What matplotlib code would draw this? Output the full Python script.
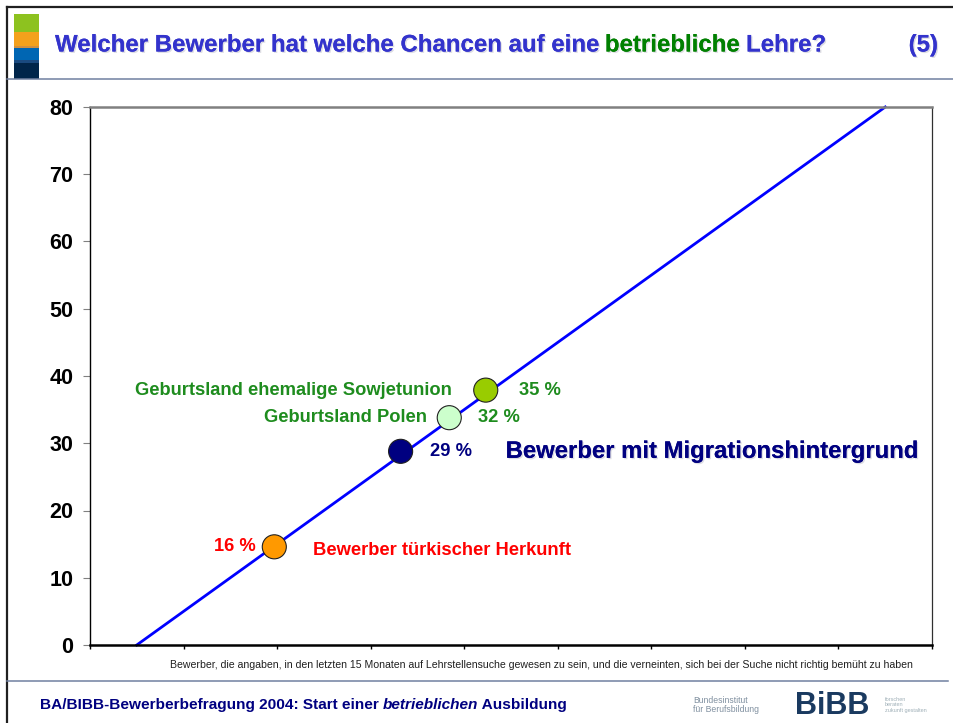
import numpy as np
import matplotlib
matplotlib.use("Agg")
import matplotlib.pyplot as plt
import matplotlib.patheffects as pe
from matplotlib.patches import Rectangle

plt.rcParams["font.family"] = ["Liberation Sans", "DejaVu Sans"]

# ---------------------------------------------------------------- data
line_x = [0.5, 8.5]
line_y = [0, 80]
pt_x = [1.97, 3.32, 3.84, 4.23]
pt_y = [14.6, 28.8, 33.8, 37.9]
pt_lab = ["16 %", "29 %", "32 %", "35 %"]
pt_face = ["#FF9900", "#000080", "#CCFFCC", "#99CC00"]
pt_txtcol = ["#FF0000", "#000080", "#1E8C1E", "#1E8C1E"]
yticks = [0, 10, 20, 30, 40, 50, 60, 70, 80]
xticks = list(range(0, 10))

TITLE_A = "Welcher Bewerber hat welche Chancen auf eine "
TITLE_B = "betriebliche"
TITLE_C = " Lehre?"
XLAB = ("Bewerber, die angaben, in den letzten 15 Monaten auf Lehrstellensuche gewesen zu sein, "
        "und die verneinten, sich bei der Suche nicht richtig bemüht zu haben")

W, H = 954, 723
fig = plt.figure(figsize=(W/100, H/100), dpi=100)
shadow = [pe.withSimplePatchShadow(offset=(1.0, -1.0), shadow_rgbFace="#A0A0B0", alpha=0.35), pe.Normal()]

# ---------------------------------------------------------------- slide frame (pixel coords)
bg = fig.add_axes([0, 0, 1, 1], zorder=0)
bg.set_xlim(0, W); bg.set_ylim(H, 0); bg.axis("off")
bg.plot([7, W], [7, 7], color="#202020", lw=1.6)
bg.plot([7, 7], [7, H], color="#202020", lw=1.6)
bg.plot([7, W], [79, 79], color="#7080A0", lw=1.1)
bg.plot([7, 948], [681, 681], color="#7080A0", lw=1.1)
for y0, y1, c in [(14, 32, "#8DC21F"), (32, 46, "#F4A11C"), (46, 48, "#D09040"),
                  (48, 60, "#0066B3"), (60, 63, "#1A4A80"), (63, 79, "#00254A")]:
    bg.add_patch(Rectangle((14, y0), 25, y1 - y0, color=c, lw=0))

r = fig.canvas.get_renderer()
def seq(parts, x, y, **kw):
    for s, c, st in parts:
        t = bg.text(x, y, s, color=c, style=st, va="center", ha="left", **kw)
        x = bg.transData.inverted().transform(
            (t.get_window_extent(r).x1, 0))[0]

seq([(TITLE_A, "#3333CC", "normal"), (TITLE_B, "#008000", "normal"), (TITLE_C, "#3333CC", "normal")],
    55, 45, fontsize=17.3, fontweight="bold", path_effects=shadow)
bg.text(938, 45, "(5)", color="#3333CC", fontsize=17.3, fontweight="bold", ha="right", va="center",
        path_effects=shadow)
seq([("BA/BIBB-Bewerberbefragung 2004: Start einer ", "#000080", "normal"),
     ("betrieblichen", "#000080", "italic"), (" Ausbildung", "#000080", "normal")],
    40, 705, fontsize=11.1, fontweight="bold")

# logo (rough)
bg.text(693, 705, "Bundesinstitut\nfür Berufsbildung", color="#8090A0", fontsize=6.2,
        va="center", ha="left", linespacing=1.0)
bg.text(795, 706, "BiBB", color="#1A3A60", fontsize=22, fontweight="bold", va="center", ha="left")
bg.text(885, 705, "forschen\nberaten\nzukunft gestalten", color="#A0B0B8", fontsize=4,
        va="center", ha="left", linespacing=1.1)

# ---------------------------------------------------------------- chart
ax = fig.add_axes([90/W, (H-645)/H, (932-90)/W, (645-107)/H], zorder=1)
ax.patch.set_alpha(0)
ax.plot(line_x, line_y, color="#0000FF", lw=2.0, zorder=2, clip_on=False)
ax.scatter(pt_x, pt_y, s=300, c=pt_face, edgecolors="#202020", linewidths=0.8, zorder=3)

ax.set_xlim(0, 9); ax.set_ylim(0, 80)
ax.set_yticks(yticks)
ax.set_yticklabels([str(v) for v in yticks], fontsize=15.5, fontweight="bold")
ax.set_xticks(xticks); ax.set_xticklabels([])
ax.tick_params(axis="y", length=5, color="#808080", pad=7)
ax.tick_params(axis="x", length=3, width=1, color="black", direction="out")
ax.spines["top"].set_color("#808080"); ax.spines["top"].set_linewidth(1.8)
ax.spines["right"].set_color("#303030"); ax.spines["right"].set_linewidth(0.9)
ax.spines["left"].set_color("black"); ax.spines["left"].set_linewidth(1.0)
ax.spines["bottom"].set_color("black"); ax.spines["bottom"].set_linewidth(1.8)
ax.set_xlabel(XLAB, fontsize=7.55, labelpad=4, color="#202020", x=0.536)

# point labels
kw = dict(fontsize=13.2, fontweight="bold", va="center")
off = [(-19, 0, "right"), (29, 0, "left"), (29, 0, "left"), (33, 0, "left")]
for x, y, s, c, (dx, dy, ha) in zip(pt_x, pt_y, pt_lab, pt_txtcol, off):
    ax.annotate(s, (x, y), xytext=(dx, dy), textcoords="offset pixels", color=c, ha=ha, **kw)
ax.annotate("Geburtsland ehemalige Sowjetunion", (pt_x[3], pt_y[3]), xytext=(-34, 0),
            textcoords="offset pixels", color="#1E8C1E", ha="right", **kw)
ax.annotate("Geburtsland Polen", (pt_x[2], pt_y[2]), xytext=(-22, 0),
            textcoords="offset pixels", color="#1E8C1E", ha="right", **kw)
ax.annotate("Bewerber türkischer Herkunft", (pt_x[0], pt_y[0]), xytext=(39, -4),
            textcoords="offset pixels", color="#FF0000", ha="left", **kw)
ax.annotate("Bewerber mit Migrationshintergrund", (pt_x[1], pt_y[1]), xytext=(105, 0),
            textcoords="offset pixels", color="#000080", ha="left", fontsize=17.2,
            fontweight="bold", va="center", path_effects=shadow,
            bbox=dict(boxstyle="square,pad=0.5", fc="white", ec="none"), zorder=5)

fig.savefig("out.png", dpi=100)
